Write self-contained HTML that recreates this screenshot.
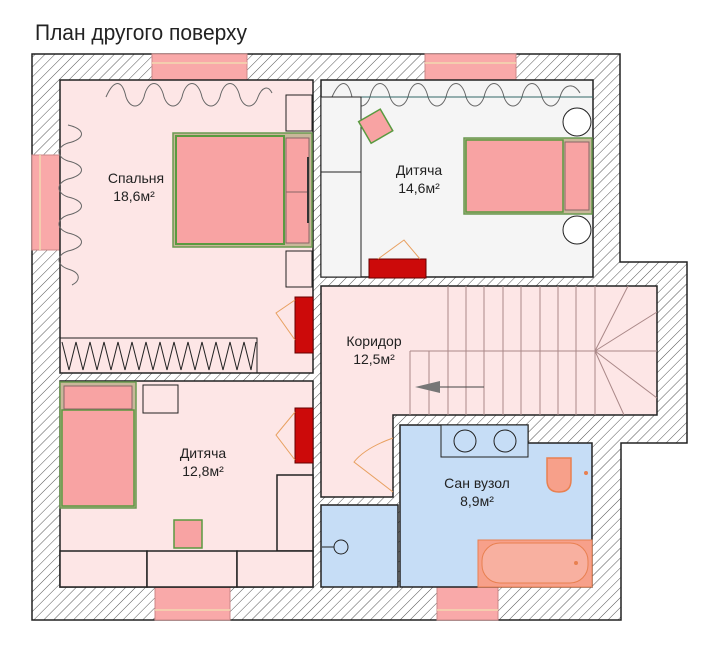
<!DOCTYPE html>
<html><head><meta charset="utf-8"><style>
body{margin:0;background:#fff;width:705px;height:649px;overflow:hidden}
svg{display:block}
text{font-family:"Liberation Sans Narrow","Liberation Sans",sans-serif;fill:#222}
</style></head><body>
<svg width="705" height="649" viewBox="0 0 705 649" xmlns="http://www.w3.org/2000/svg">
<defs>
<pattern id="h" width="7" height="7" patternUnits="userSpaceOnUse" patternTransform="rotate(45)">
<rect width="7" height="7" fill="#fff"/><line x1="0" y1="0" x2="0" y2="7" stroke="#555" stroke-width="1"/>
</pattern>
</defs>
<text x="35" y="40" font-size="22" textLength="212" lengthAdjust="spacingAndGlyphs">План другого поверху</text>
<polygon points="32,54 620,54 620,262 687,262 687,443 621,443 621,620 32,620" fill="url(#h)" stroke="#222" stroke-width="1.5"/>
<g fill="#f9a9a9" stroke="#c88">
<rect x="152" y="54" width="95" height="26"/><rect x="425" y="54" width="91" height="26"/>
<rect x="32" y="155" width="28" height="95"/><rect x="155" y="587" width="75" height="33"/>
<rect x="437" y="587" width="61" height="33"/>
</g>
<g stroke="#f3d9b0" stroke-width="1.5"><line x1="152" y1="63" x2="247" y2="63"/><line x1="425" y1="63" x2="516" y2="63"/><line x1="40" y1="155" x2="40" y2="250"/><line x1="155" y1="610" x2="230" y2="610"/><line x1="437" y1="610" x2="498" y2="610"/></g>
<g stroke="#222" stroke-width="1.5">
<rect x="60" y="80" width="253" height="293" fill="#fde6e6"/>
<rect x="321" y="80" width="272" height="197" fill="#f5f5f5"/>
<polygon points="321,286 657,286 657,415 393,415 393,497 321,497" fill="#fde6e6"/>
<rect x="60" y="381" width="253" height="206" fill="#fde6e6"/>
<polygon points="400,425 528,425 528,443 592,443 592,587 400,587" fill="#c6ddf6"/>
<rect x="321" y="505" width="77" height="82" fill="#c6ddf6"/>
</g>
<g fill="#cc0a0a" stroke="#600"><rect x="295" y="297" width="18" height="56"/><rect x="295" y="408" width="18" height="55"/><rect x="369" y="259" width="57" height="19"/></g>
<g fill="none" stroke="#e8a060" stroke-width="1"><path d="M295,300 L276,313 L295,340"/><path d="M295,412 L276,435 L295,460"/><path d="M378,259 L404,240 L420,259"/><path d="M393,438 Q365,448 354,462 L393,492"/></g>
<g stroke="#222" fill="#fde6e6"><rect x="286" y="95" width="26" height="36"/><rect x="286" y="251" width="26" height="36"/></g>
<rect x="173" y="133" width="139" height="114" fill="#c9b79a" stroke="#6a9a50" stroke-width="1.5"/>
<rect x="176" y="136" width="108" height="108" fill="#f8a3a3" stroke="#5a9a40" stroke-width="2"/>
<rect x="286" y="138" width="23" height="105" fill="#f8a3a3" stroke="#866"/>
<line x1="286" y1="192" x2="309" y2="192" stroke="#866"/><line x1="308" y1="157" x2="308" y2="223" stroke="#333" stroke-width="2"/>
<rect x="60" y="338" width="197" height="35" fill="none" stroke="#222"/>
<path d="M62,342 L69,370 L76,342 L83,370 L90,342 L97,370 L104,342 L111,370 L118,342 L125,370 L132,342 L139,370 L146,342 L153,370 L160,342 L167,370 L174,342 L181,370 L188,342 L195,370 L202,342 L209,370 L216,342 L223,370 L230,342 L237,370 L244,342 L251,370 L256,342" fill="none" stroke="#222"/>
<g fill="none" stroke="#666" stroke-width="1">
<path d="M106,97 c8,-18 16,-18 20,0 c4,12 14,12 18,0 c4,-18 16,-18 20,0 c4,12 14,12 18,0 c4,-18 16,-18 20,0 c4,12 14,12 18,0 c4,-18 16,-18 20,0 c4,12 14,12 18,0 c4,-10 10,-12 14,-4"/>
<path d="M68,125 c18,4 18,14 0,18 c-12,4 -12,14 0,18 c18,4 18,14 0,18 c-12,4 -12,14 0,18 c18,4 18,14 0,18 c-12,4 -12,14 0,18 c18,4 18,14 0,18 c-12,4 -12,14 0,18 c14,4 12,12 4,16"/>
<path d="M332,97 c8,-18 16,-18 20,0 c4,12 14,12 18,0 c4,-18 16,-18 20,0 c4,12 14,12 18,0 c4,-18 16,-18 20,0 c4,12 14,12 18,0 c4,-18 16,-18 20,0 c4,12 14,12 18,0 c4,-18 16,-18 20,0 c4,12 14,12 18,0 c4,-18 16,-18 20,0 c4,12 14,12 18,0 c4,-14 14,-14 20,-4"/>
</g>
<line x1="321" y1="97" x2="593" y2="97" stroke="#366" stroke-width="1"/>
<g stroke="#222" fill="#f5f5f5"><rect x="321" y="97" width="40" height="75"/><rect x="321" y="172" width="40" height="105"/></g>
<rect x="363" y="114" width="25" height="25" fill="#f8a3a3" stroke="#5a9a40" stroke-width="1.5" transform="rotate(-30 375 126)"/>
<rect x="464" y="138" width="128" height="76" fill="#c9b79a" stroke="#6a9a50" stroke-width="1.5"/>
<rect x="466" y="140" width="97" height="72" fill="#f8a3a3" stroke="#5a9a40" stroke-width="1.5"/>
<rect x="565" y="142" width="24" height="68" fill="#f8a3a3" stroke="#866"/>
<g fill="#fff" stroke="#222"><circle cx="577" cy="122" r="14"/><circle cx="577" cy="230" r="14"/></g>
<g stroke="#a88" stroke-width="1" fill="none">
<line x1="410" y1="351" x2="657" y2="351"/>
<line x1="410" y1="351" x2="410" y2="415"/><line x1="429" y1="351" x2="429" y2="415"/>
<line x1="448" y1="286" x2="448" y2="415"/><line x1="466" y1="286" x2="466" y2="415"/><line x1="484" y1="286" x2="484" y2="415"/><line x1="503" y1="286" x2="503" y2="415"/><line x1="521" y1="286" x2="521" y2="415"/><line x1="540" y1="286" x2="540" y2="415"/><line x1="558" y1="286" x2="558" y2="415"/><line x1="576" y1="286" x2="576" y2="415"/><line x1="595" y1="286" x2="595" y2="415"/>
<path d="M595,351 L628,286 M595,351 L657,312 M595,351 L657,351 M595,351 L657,398 M595,351 L624,415"/>
</g>
<line x1="484" y1="387" x2="428" y2="387" stroke="#444"/>
<polygon points="415,387 440,381 440,393" fill="#777"/>
<rect x="60" y="382" width="76" height="126" fill="#c9b79a" stroke="#6a9a50" stroke-width="1.5"/>
<rect x="62" y="410" width="72" height="96" fill="#f8a3a3" stroke="#5a9a40" stroke-width="1.5"/>
<rect x="64" y="386" width="68" height="23" fill="#f8a3a3" stroke="#866"/>
<rect x="143" y="385" width="35" height="28" fill="#fde6e6" stroke="#222"/>
<rect x="174" y="520" width="28" height="28" fill="#f8a3a3" stroke="#5a9a40" stroke-width="1.5"/>
<g stroke="#222" fill="#fde6e6" stroke-width="1.5"><rect x="277" y="475" width="36" height="76"/><rect x="60" y="551" width="87" height="36"/><rect x="147" y="551" width="90" height="36"/><rect x="237" y="551" width="76" height="36"/></g>
<rect x="441" y="425" width="87" height="32" fill="#c6ddf6" stroke="#222"/>
<g fill="none" stroke="#222"><circle cx="465" cy="441" r="11"/><circle cx="505" cy="441" r="11"/><circle cx="341" cy="547" r="7"/><line x1="322" y1="547" x2="334" y2="547"/></g>
<rect x="478" y="540" width="114" height="47" fill="#f7a08a" stroke="#e88050"/>
<rect x="482" y="543" width="106" height="40" rx="18" fill="#f8b0a0" stroke="#e88050"/>
<circle cx="576" cy="563" r="2" fill="#e88050"/>
<path d="M547,458 L571,458 L571,480 Q571,492 559,492 Q547,492 547,480 Z" fill="#f7a08a" stroke="#e88050" stroke-width="1.5"/>
<circle cx="586" cy="473" r="2" fill="#e88050"/>
<g font-size="14" text-anchor="middle">
<text x="136" y="183">Спальня</text><text x="134" y="201">18,6м²</text>
<text x="419" y="175">Дитяча</text><text x="419" y="193">14,6м²</text>
<text x="374" y="346">Коридор</text><text x="374" y="364">12,5м²</text>
<text x="203" y="458">Дитяча</text><text x="203" y="476">12,8м²</text>
<text x="477" y="488">Сан вузол</text><text x="477" y="506">8,9м²</text>
</g>
</svg>
</body></html>
